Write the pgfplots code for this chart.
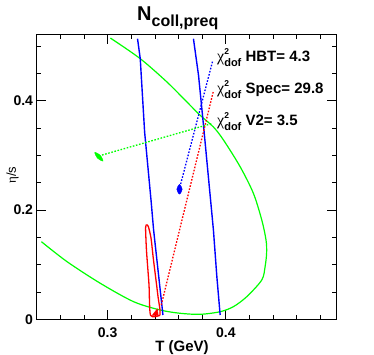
\documentclass[border=0pt]{standalone}
\usepackage{fontspec}
\setmainfont{Liberation Sans}
\newfontfamily\grk{Liberation Serif}
\usepackage{pgfplots}
\pgfplotsset{compat=1.18}
\newcommand{\chidof}{{\fontsize{16}{16}\selectfont\grk χ}\rlap{\raisebox{7.5pt}{\fontsize{8.5}{8.5}\selectfont\bfseries 2}}\raisebox{-5pt}{\fontsize{11}{11}\selectfont\bfseries dof}}
\begin{document}
\begin{tikzpicture}
\useasboundingbox (-36.7pt,-35.7pt) rectangle (337.3pt,319.3pt);
\begin{axis}[
  at={(0pt,0pt)}, anchor=south west,
  scale only axis, width=299.3pt, height=284.6pt,
  xmin=0.24, xmax=0.4932, ymin=0, ymax=0.5208,
  xtick={0.3,0.4}, xticklabels={0.3,0.4},
  ytick={0,0.2,0.4}, yticklabels={0,0.2,0.4},
  minor xtick={0.26,0.28,0.32,0.34,0.36,0.38,0.42,0.44,0.46,0.48},
  minor ytick={0.05,0.1,0.15,0.25,0.3,0.35,0.45,0.5},
  tick align=inside, major tick length=9pt, minor tick length=4.5pt,
  tick style={black, line width=0.8pt},
  axis line style={line width=1pt},
  xticklabel style={font=\fontsize{14}{14}\selectfont\bfseries, anchor=north, inner sep=0pt, yshift=-8pt},
  yticklabel style={font=\fontsize{14}{14}\selectfont\bfseries, anchor=east, inner sep=0pt, xshift=-3.5pt},
  clip=false,
]
% green large contour
\addplot[green, line width=1.2pt, smooth] coordinates {
(0.3023,0.5147)(0.3276,0.4769)(0.3502,0.4342)(0.3671,0.3976)(0.3783,0.3733)(0.3895,0.3519)
(0.3980,0.3281)(0.4121,0.2792)(0.4233,0.2306)(0.4304,0.1817)(0.4340,0.1451)(0.4345,0.1213)
(0.4332,0.0962)(0.4304,0.0719)(0.4177,0.0414)(0.4064,0.0231)(0.3952,0.0139)(0.3783,0.0091)
(0.3614,0.0110)(0.3445,0.0170)(0.3220,0.0322)(0.2938,0.0659)(0.2657,0.1054)(0.2440,0.1420)};
% blue contour sides
\addplot[blue, line width=1.4pt] coordinates {
(0.3253,0.5134)(0.3276,0.4769)(0.3313,0.3427)(0.3367,0.2183)(0.3389,0.1634)(0.3468,0.0079)};
\addplot[blue, line width=1.4pt] coordinates {
(0.3726,0.5134)(0.3769,0.4465)(0.3811,0.3550)(0.3895,0.1634)(0.3924,0.0780)(0.3952,0.0079)};
% red contour
\addplot[red, line width=1.3pt, smooth, tension=0.4] coordinates {
(0.3329,0.1731)(0.3344,0.1702)(0.3367,0.1488)(0.3386,0.1122)(0.3414,0.0633)(0.3428,0.0390)
(0.3443,0.0176)(0.3443,0.0073)};
\addplot[red, line width=1.3pt, smooth, tension=0.4] coordinates {
(0.3443,0.0073)(0.3363,0.0073)(0.3350,0.0633)(0.3329,0.1250)(0.3321,0.1671)(0.3329,0.1731)};
\addplot[red, fill=red, draw=red, line width=0.6pt] coordinates {
(0.3378,0.0073)(0.3428,0.0073)(0.3420,0.0188)} -- cycle;
% dotted connectors
\addplot[red, line width=1.3pt, dash pattern=on 1.6pt off 1.6pt] coordinates {(0.3454,0.0262)(0.3895,0.4178)};
\addplot[blue, line width=1.3pt, dash pattern=on 1.6pt off 1.6pt] coordinates {(0.3618,0.2476)(0.3890,0.4739)};
\addplot[green, line width=1.3pt, dash pattern=on 1.6pt off 1.6pt] coordinates {(0.2953,0.3006)(0.3884,0.3583)};
% small filled contours
\addplot[blue, fill=blue, smooth cycle] coordinates {
(0.3631,0.2379)(0.3608,0.2467)(0.3585,0.2379)(0.3608,0.2291)};
\addplot[green, fill=green, smooth cycle] coordinates {
(0.2891,0.3055)(0.2938,0.3000)(0.2961,0.2895)(0.2914,0.2950)};
\end{axis}
\node[anchor=base west, inner sep=0pt] at (100.3pt,298.3pt) {\fontsize{20}{20}\selectfont\bfseries N\raisebox{-5.7pt}{\fontsize{16}{16}\selectfont coll,preq}};
\node[anchor=base west, inner sep=0pt] at (180.3pt,257.6pt) {\chidof\fontsize{15}{15}\selectfont\bfseries\ HBT= 4.3};
\node[anchor=base west, inner sep=0pt] at (180.3pt,225.3pt) {\chidof\fontsize{15}{15}\selectfont\bfseries\ Spec= 29.8};
\node[anchor=base west, inner sep=0pt] at (180.3pt,193.6pt) {\chidof\fontsize{15}{15}\selectfont\bfseries\ V2= 3.5};
\node[rotate=90, anchor=center, inner sep=0pt] at (-24.2pt,144pt) {\fontsize{13}{13}\selectfont{\grk η}/s};
\node[anchor=base, inner sep=0pt] at (145.3pt,-32.4pt) {\fontsize{15}{15}\selectfont\bfseries T (GeV)};
\end{tikzpicture}
\end{document}
